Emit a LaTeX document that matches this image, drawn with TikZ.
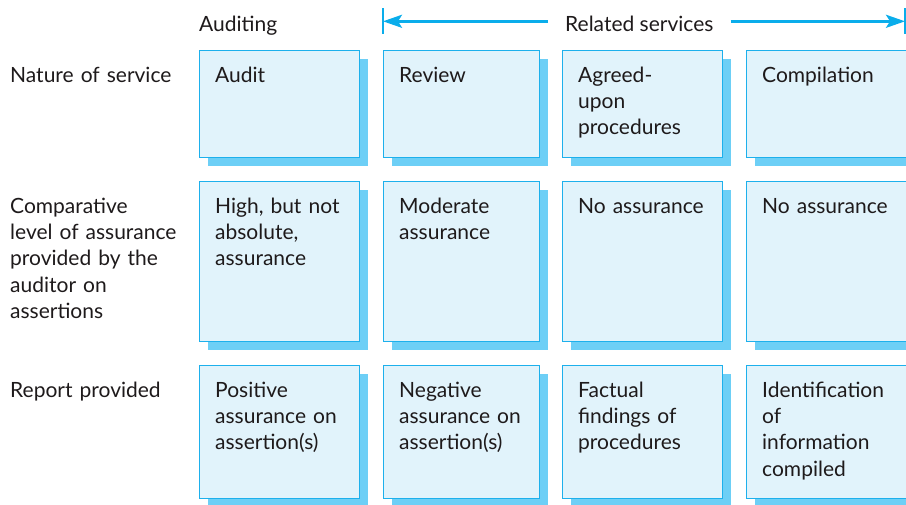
\documentclass[tikz,border=0pt]{standalone}
\usepackage{fontspec}
\setmainfont{Lato}
\usetikzlibrary{shadows,arrows.meta}
\definecolor{cellfill}{HTML}{E1F3FB}
\definecolor{cellline}{HTML}{1DB0EC}
\definecolor{shadowblue}{HTML}{6DCFF6}
\definecolor{arrowblue}{HTML}{0AADEB}
\definecolor{inkgrey}{HTML}{1E1A1B}
\tikzstyle{cell} = [rectangle, draw=cellline, fill=cellfill, line width=1.3pt,
  minimum width=160pt, anchor=north west, inner sep=0pt,
  drop shadow={shadow xshift=8pt, shadow yshift=-8pt, fill=shadowblue, opacity=1}]
\tikzstyle{celltext} = [anchor=north west, inner sep=0pt, text width=150pt,
  align=left, text=inkgrey, font=\fontsize{21}{26.3}\selectfont,
  execute at begin node=\strut]
\tikzstyle{rowhead} = [celltext, text width=185pt]
\tikzstyle{colhead} = [anchor=base west, inner sep=0pt, text=inkgrey,
  font=\fontsize{21}{26.3}\selectfont]
\tikzstyle{span} = [draw=arrowblue, line width=2.6pt,
  -{Stealth[length=19pt,width=13pt,inset=4pt]}, shorten <=17pt]
\tikzstyle{tick} = [draw=arrowblue, line width=1.3pt]

\begin{document}
\begin{tikzpicture}[x=1pt, y=-1pt]
  \useasboundingbox (0,0) rectangle (906,504);

  \node [colhead] (audhead) at (199,31.7) {Auditing};
  \node [colhead] (relhead) at (565,31.7) {Related services};
  \coordinate (tickL) at (383,21.3);
  \coordinate (tickR) at (905,21.3);

  \node [rowhead] (nature) at (10,63.6) {Nature of service};
  \node [rowhead] (level) at (10,194.6) {Comparative\\ level of assurance\\ provided by the\\ auditor on\\ assertions};
  \node [rowhead] (report) at (10,378.6) {Report provided};

  % nature of service
  \node [cell, minimum height=107pt] (audit) at (199,50) {};
  \node [cell, minimum height=107pt, minimum width=156pt] (review) at (383,50) {};
  \node [cell, minimum height=107pt] (agreed) at (562,50) {};
  \node [cell, minimum height=107pt] (compile) at (746,50) {};

  % level of assurance
  \node [cell, minimum height=160pt] (audlevel) at (199,181) {};
  \node [cell, minimum height=160pt, minimum width=156pt] (revlevel) at (383,181) {};
  \node [cell, minimum height=160pt] (agrlevel) at (562,181) {};
  \node [cell, minimum height=160pt] (comlevel) at (746,181) {};

  % report
  \node [cell, minimum height=133pt] (audrep) at (199,365) {};
  \node [cell, minimum height=133pt, minimum width=156pt] (revrep) at (383,365) {};
  \node [cell, minimum height=133pt] (agrrep) at (562,365) {};
  \node [cell, minimum height=133pt] (comrep) at (746,365) {};

  \node [celltext] (audit-t) at ([shift={(16,13.6)}]audit.north west) {Audit};
  \node [celltext] (review-t) at ([shift={(16,13.6)}]review.north west) {Review};
  \node [celltext] (agreed-t) at ([shift={(16,13.6)}]agreed.north west) {Agreed-\\ upon\\ procedures};
  \node [celltext] (compile-t) at ([shift={(16,13.6)}]compile.north west) {Compilation};

  \node [celltext] (audlevel-t) at ([shift={(16,13.6)}]audlevel.north west) {High, but not\\ absolute,\\ assurance};
  \node [celltext] (revlevel-t) at ([shift={(16,13.6)}]revlevel.north west) {Moderate\\ assurance};
  \node [celltext] (agrlevel-t) at ([shift={(16,13.6)}]agrlevel.north west) {No assurance};
  \node [celltext] (comlevel-t) at ([shift={(16,13.6)}]comlevel.north west) {No assurance};

  \node [celltext] (audrep-t) at ([shift={(16,13.6)}]audrep.north west) {Positive\\ assurance on\\ assertion(s)};
  \node [celltext] (revrep-t) at ([shift={(16,13.6)}]revrep.north west) {Negative\\ assurance on\\ assertion(s)};
  \node [celltext] (agrrep-t) at ([shift={(16,13.6)}]agrrep.north west) {Factual\\ findings of\\ procedures};
  \node [celltext] (comrep-t) at ([shift={(16,13.6)}]comrep.north west) {Identification\\ of\\ information\\ compiled};

  \path [span] (relhead.west |- tickL) -- (tickL);
  \path [span] (relhead.east |- tickR) -- (tickR);
  \path [tick] ([yshift=13pt]tickL) -- ([yshift=-13pt]tickL);
  \path [tick] ([yshift=13pt]tickR) -- ([yshift=-13pt]tickR);

\end{tikzpicture}
\end{document}
